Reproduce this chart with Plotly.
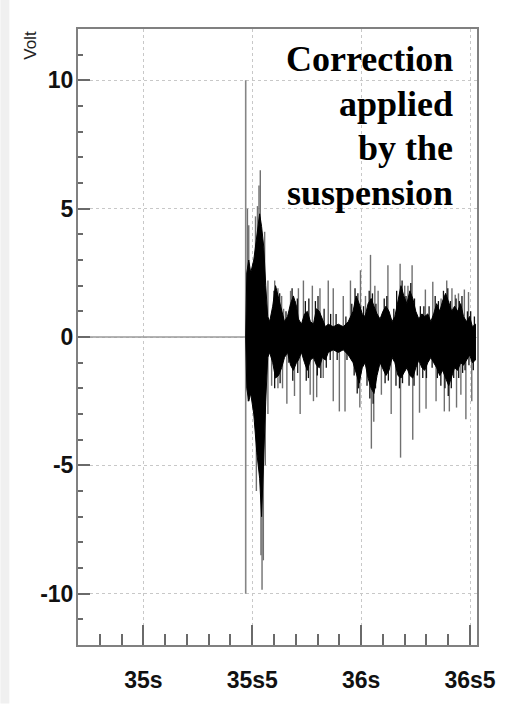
import plotly.graph_objects as go

# ---------------- data ----------------
# flat part of the record before the kick (time in s, volts)
baseline_t = [34.70, 35.470]
baseline_v = [0.0, 0.0]

# saturated kick applied at the start of the correction
kick_t = 35.470
kick_lo = -10.0
kick_hi = 10.0

# envelope of the dense black band of the correction signal
core_t = [35.470, 35.475, 35.484, 35.493, 35.507, 35.521, 35.534, 35.543, 35.553, 35.562,
          35.571, 35.580, 35.594, 35.607, 35.621, 35.635, 35.648, 35.662, 35.676, 35.689,
          35.703, 35.712, 35.726, 35.740, 35.753, 35.767, 35.781, 35.795, 35.808, 35.822,
          35.836, 35.849, 35.872, 35.895, 35.918, 35.941, 35.963, 35.977, 35.991, 36.005,
          36.018, 36.032, 36.046, 36.059, 36.073, 36.087, 36.100, 36.114, 36.128, 36.142,
          36.155, 36.169, 36.183, 36.196, 36.210, 36.224, 36.237, 36.251, 36.265, 36.279,
          36.292, 36.306, 36.320, 36.333, 36.347, 36.361, 36.374, 36.388, 36.402, 36.416,
          36.429, 36.443, 36.457, 36.470, 36.484, 36.498, 36.511, 36.525]
core_hi = [0.0, 2.5, 3.0, 2.5, 3.0, 4.0, 4.8, 4.3, 3.5, 2.0,
           0.8, 0.6, 1.2, 2.0, 1.5, 1.0, 0.6, 0.8, 1.3, 1.6,
           1.2, 0.7, 0.5, 0.9, 1.0, 0.6, 0.5, 1.1, 1.0, 0.7,
           0.4, 0.5, 0.4, 0.5, 0.4, 0.6, 1.0, 1.6, 1.3, 0.9,
           0.8, 1.3, 1.5, 1.2, 0.9, 0.7, 1.0, 1.2, 1.0, 0.6,
           0.8, 1.4, 2.0, 1.6, 1.3, 1.8, 1.5, 1.0, 0.7, 0.9,
           0.8, 0.9, 0.6, 0.9, 1.3, 1.0, 1.4, 1.7, 1.3, 1.0,
           1.2, 1.0, 1.3, 0.8, 0.6, 0.8, 0.4, 0.5]
core_lo = [0.0, -2.0, -2.5, -2.2, -3.0, -4.5, -5.5, -7.0, -5.0, -2.5,
           -0.8, -0.6, -1.0, -1.6, -1.5, -1.2, -0.8, -0.6, -1.1, -1.3,
           -1.0, -0.9, -0.6, -1.0, -1.3, -0.9, -0.8, -1.1, -1.2, -0.8,
           -0.9, -0.6, -0.5, -0.6, -0.5, -0.7, -1.0, -1.4, -1.8, -1.2,
           -1.0, -1.6, -2.0, -2.2, -1.5, -1.0, -1.2, -1.5, -1.3, -0.8,
           -1.0, -1.5, -1.6, -1.4, -1.2, -1.5, -1.6, -1.2, -0.9, -1.2,
           -1.3, -1.0, -0.8, -1.0, -1.2, -1.5, -1.3, -1.6, -1.9, -1.5,
           -1.2, -1.3, -1.0, -1.1, -0.9, -0.7, -1.0, -0.9]

# short dark peaks fringing the band
fine_t = [35.600, 35.626, 35.655, 35.683, 35.707, 35.744, 35.760, 35.790, 35.802, 35.830,
          35.860, 35.885, 35.930, 35.957, 35.972, 35.985, 36.011, 36.037, 36.052, 36.068,
          36.106, 36.118, 36.150, 36.163, 36.188, 36.206, 36.228, 36.245, 36.272, 36.288,
          36.312, 36.340, 36.355, 36.378, 36.398, 36.410, 36.436, 36.451, 36.463, 36.488,
          36.503, 36.520,
          35.603, 35.628, 35.668, 35.686, 35.709, 35.748, 35.758, 35.799, 35.815, 35.840,
          35.858, 35.890, 35.935, 35.968, 35.982, 35.988, 36.027, 36.040, 36.055, 36.066,
          36.110, 36.125, 36.160, 36.176, 36.190, 36.220, 36.243, 36.258, 36.283, 36.300,
          36.326, 36.350, 36.366, 36.385, 36.400, 36.414, 36.425, 36.448, 36.466, 36.477,
          36.495, 36.515]
fine_v = [1.8, 1.7, 1.0, 1.9, 1.5, 1.4, 1.5, 1.4, 1.6, 1.1,
          0.9, 0.9, 0.8, 1.3, 1.9, 1.7, 1.2, 1.8, 1.7, 1.3,
          1.5, 1.6, 1.1, 1.8, 2.2, 1.6, 2.1, 1.5, 1.2, 1.2,
          1.2, 1.6, 1.4, 1.8, 1.9, 1.4, 1.5, 1.4, 1.6, 1.0,
          1.0, 0.8,
          -2.0, -1.8, -1.0, -1.7, -1.4, -1.7, -1.6, -1.5, -1.6, -1.2,
          -0.9, -0.9, -0.9, -1.5, -2.2, -2.0, -1.9, -2.4, -2.6, -2.0,
          -1.8, -1.7, -1.9, -2.0, -1.8, -1.9, -1.9, -1.5, -1.6, -1.6,
          -1.2, -1.6, -1.9, -2.0, -2.3, -2.0, -1.6, -1.6, -1.4, -1.3,
          -1.1, -1.3]

# isolated peaks sticking out of the band
spike_up_t = [35.478, 35.484, 35.515, 35.524, 35.531, 35.537, 35.557, 35.572, 35.603, 35.618,
              35.635, 35.644, 35.676, 35.697, 35.712, 35.735, 35.776, 35.811, 35.849, 35.872,
              35.918, 35.951, 35.997, 36.020, 36.043, 36.063, 36.078, 36.123, 36.179, 36.200,
              36.215, 36.234, 36.295, 36.329, 36.367, 36.393, 36.417, 36.432, 36.447, 36.474,
              36.493]
spike_up_v = [5.0, 4.35, 4.7, 5.1, 5.9, 6.5, 4.1, 2.2, 2.2, 1.9,
              1.6, 1.1, 1.8, 1.4, 1.9, 2.2, 2.0, 1.9, 2.2, 1.9,
              1.6, 2.2, 2.6, 1.6, 3.2, 2.0, 1.8, 2.8, 2.85, 2.0,
              2.0, 2.8, 1.85, 2.15, 1.5, 2.2, 1.9, 1.65, 1.7, 1.85,
              1.75]
spike_dn_t = [35.481, 35.493, 35.519, 35.530, 35.540, 35.545, 35.551, 35.560, 35.572, 35.589,
              35.618, 35.639, 35.659, 35.694, 35.720, 35.766, 35.781, 35.796, 35.826, 35.872,
              35.900, 35.926, 35.994, 36.047, 36.058, 36.093, 36.138, 36.181, 36.237, 36.268,
              36.298, 36.344, 36.382, 36.405, 36.438, 36.458, 36.481, 36.508]
spike_dn_v = [-2.5, -2.2, -6.0, -5.1, -8.5, -9.85, -8.7, -5.0, -3.0, -1.9,
              -2.0, -2.0, -2.6, -2.3, -3.0, -2.25, -2.5, -2.35, -1.6, -2.5,
              -2.9, -2.9, -2.75, -4.35, -3.3, -2.25, -3.0, -4.7, -4.0, -2.95,
              -2.8, -2.5, -2.9, -2.9, -2.75, -2.25, -3.2, -2.5]

# axes
x_range = [34.70, 36.532]
y_range = [-12, 12]
x_tickvals = [35.0, 35.5, 36.0, 36.5]
x_ticktext = ["35s", "35s5", "36s", "36s5"]
x_minorvals = [34.8, 34.9, 35.1, 35.2, 35.3, 35.4, 35.6, 35.7, 35.8, 35.9,
               36.1, 36.2, 36.3, 36.4]
y_tickvals = [-10, -5, 0, 5, 10]
y_ticktext = ["-10", "-5", "0", "5", "10"]
y_minorvals = [-11, -9, -8, -7, -6, -4, -3, -2, -1, 1, 2, 3, 4, 6, 7, 8, 9, 11]
y_title = "Volt"
note_lines = ["Correction", "applied", "by the", "suspension"]


def segments(ts, vs):
    xs, ys = [], []
    for t, v in zip(ts, vs):
        xs += [t, t, None]
        ys += [0.0, v, None]
    return xs, ys


# ---------------- figure ----------------
fig = go.Figure()

fig.add_trace(go.Scatter(x=baseline_t, y=baseline_v, mode="lines",
                         line=dict(color="#9a9a9a", width=1.6), hoverinfo="skip"))
fig.add_trace(go.Scatter(x=[kick_t, kick_t], y=[kick_lo, kick_hi], mode="lines",
                         line=dict(color="#858585", width=1.6), hoverinfo="skip"))

sx, sy = segments(spike_up_t + spike_dn_t, spike_up_v + spike_dn_v)
fig.add_trace(go.Scatter(x=sx, y=sy, mode="lines",
                         line=dict(color="#707070", width=1.4), hoverinfo="skip"))

fx, fy = segments(fine_t, fine_v)
fig.add_trace(go.Scatter(x=fx, y=fy, mode="lines",
                         line=dict(color="#111111", width=1.3), hoverinfo="skip"))

fig.add_trace(go.Scatter(x=core_t + core_t[::-1], y=core_hi + core_lo[::-1],
                         mode="lines", fill="toself", fillcolor="black",
                         line=dict(color="black", width=1), hoverinfo="skip"))

axis_common = dict(showline=True, linecolor="#808080", linewidth=2, mirror=True,
                   ticks="inside", tickcolor="#6a6a6a", tickwidth=1.5,
                   showgrid=True, gridcolor="#c8c8c8", griddash="dot", gridwidth=1,
                   zeroline=False, fixedrange=True,
                   tickfont=dict(family="Liberation Sans, Arial, sans-serif", size=23,
                                 color="#111111", weight=700))

fig.update_xaxes(range=x_range, tickmode="array", tickvals=x_tickvals, ticktext=x_ticktext,
                 ticklen=20, ticklabelstandoff=13,
                 minor=dict(tickmode="array", tickvals=x_minorvals, ticks="inside",
                            ticklen=11, tickcolor="#6a6a6a", tickwidth=1.5, showgrid=False),
                 **axis_common)
fig.update_yaxes(range=y_range, tickmode="array", tickvals=y_tickvals, ticktext=y_ticktext,
                 ticklen=12, ticklabelstandoff=-2,
                 minor=dict(tickmode="array", tickvals=y_minorvals, ticks="inside",
                            ticklen=5, tickcolor="#6a6a6a", tickwidth=1.5, showgrid=False),
                 **axis_common)

# light grey strip at the left edge of the canvas
fig.add_shape(type="rect", xref="paper", yref="paper",
              x0=-0.1945, x1=-0.172, y0=-0.095, y1=1.05,
              fillcolor="#f0f0f0", line=dict(width=0), layer="below")

fig.add_annotation(text=y_title, xref="paper", yref="paper", x=-0.1197, y=1.0,
                   xanchor="center", yanchor="top", textangle=-90, showarrow=False,
                   font=dict(family="Liberation Sans, Arial, sans-serif", size=17, color="#222"))

line_y = [0.951, 0.879, 0.807, 0.734]
for txt, yy in zip(note_lines, line_y):
    fig.add_annotation(text=txt, xref="paper", yref="paper", x=0.945, y=yy,
                       xanchor="right", yanchor="middle", showarrow=False,
                       font=dict(family="Liberation Serif, Times New Roman, serif", size=36,
                                 color="black", weight=700))

fig.update_layout(width=508, height=705, margin=dict(l=78, r=29, t=29, b=56),
                  plot_bgcolor="white", paper_bgcolor="white", showlegend=False)

fig.write_html("out.html", config=dict(displayModeBar=False))

# remove the browser's default page margin so the canvas sits at (0, 0)
with open("out.html", "r", encoding="utf-8") as fh:
    page = fh.read()
page = page.replace("<body>", '<body style="margin:0;padding:0;overflow:hidden">', 1)
with open("out.html", "w", encoding="utf-8") as fh:
    fh.write(page)
